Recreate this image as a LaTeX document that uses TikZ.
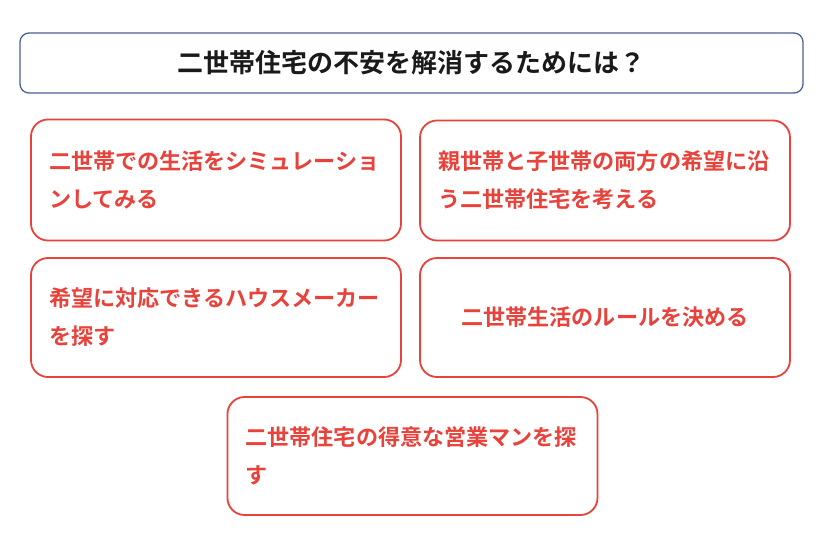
\documentclass[tikz,border=0pt]{standalone}
\usepackage{fontspec}
\setmainfont{Noto Sans CJK JP}[BoldFont={Noto Sans CJK JP Bold}]
\newfontfamily\jpbold{Noto Sans CJK JP Bold}
\definecolor{boxred}{HTML}{E8423B}
\definecolor{titleblue}{HTML}{4B5E96}
\definecolor{titletext}{HTML}{1A1A1A}
\tikzset{
  redbox/.style={draw=boxred, line width=1.8pt, rounded corners=17pt, text=boxred,
    font=\jpbold\fontsize{22.1}{38}\selectfont, inner sep=0pt},
  leftbox/.style={redbox, align=left, text width=334pt},
  centerbox/.style={redbox, align=center},
  titlebox/.style={draw=titleblue, line width=1.3pt, rounded corners=9pt, text=titletext,
    font=\jpbold\fontsize{26}{30}\selectfont, inner sep=0pt, align=center}
}
\begin{document}
\begin{tikzpicture}[x=1pt,y=-1pt]
\useasboundingbox (0,0) rectangle (828,549);
\node[titlebox, minimum width=783pt, minimum height=60pt] (title) at (411.5,63) {二世帯住宅の不安を解消するためには？};
\node[leftbox, minimum width=370pt, minimum height=121pt] (b1) at (216,180) {二世帯での生活をシミュレーショ\\ンしてみる};
\node[leftbox, minimum width=370pt, minimum height=120pt] (b2) at (605,180.5) {親世帯と子世帯の両方の希望に沿\\う二世帯住宅を考える};
\node[leftbox, minimum width=370pt, minimum height=119pt] (b3) at (216,317.5) {希望に対応できるハウスメーカー\\を探す};
\node[centerbox, minimum width=370pt, minimum height=119pt] (b4) at (605,317.5) {二世帯生活のルールを決める};
\node[leftbox, minimum width=370pt, minimum height=118pt] (b5) at (412.5,456) {二世帯住宅の得意な営業マンを探\\す};
\end{tikzpicture}
\end{document}
